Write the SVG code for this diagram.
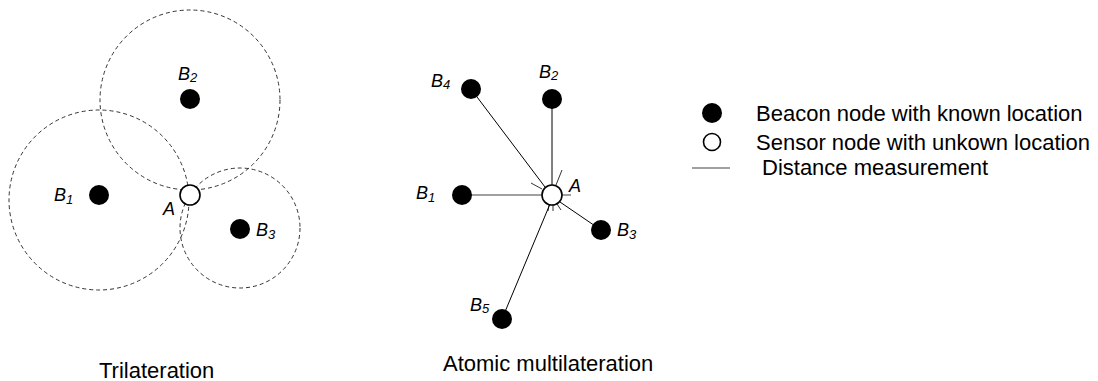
<svg xmlns="http://www.w3.org/2000/svg" width="1098" height="381" viewBox="0 0 1098 381">
<style>
.bg{fill:#fff}
.beacon{fill:#000}
.sensor{fill:#fff;stroke:#000;stroke-width:1.6}
.range{fill:none;stroke:#333;stroke-width:1;stroke-dasharray:4 3}
.dist{stroke:#000;stroke-width:1;fill:none}
.distg{stroke:#808080;stroke-width:1.5;fill:none}
.tick{stroke:#000;stroke-width:0.8}
.lbl{font-family:"Liberation Sans",Arial,sans-serif;font-style:italic;font-size:18px;fill:#000}
.sub{font-size:13px}
.txt{font-family:"Liberation Sans",Arial,sans-serif;font-size:22px;fill:#000}
</style>
<rect class="bg" x="0" y="0" width="1098" height="381"/>

<!-- Trilateration -->
<g id="trilateration-ranges">
  <circle class="range" cx="190" cy="100" r="90"/>
  <circle class="range" cx="99" cy="200" r="90"/>
  <circle class="range" cx="240" cy="228" r="60"/>
</g>
<g id="tri-B2"><circle class="beacon" cx="190" cy="99" r="10"/><text class="lbl" x="178" y="80">B<tspan class="sub" dy="2">2</tspan></text></g>
<g id="tri-B1"><circle class="beacon" cx="99" cy="195" r="10"/><text class="lbl" x="54" y="201">B<tspan class="sub" dy="3">1</tspan></text></g>
<g id="tri-B3"><circle class="beacon" cx="240" cy="229" r="10"/><text class="lbl" x="256" y="236">B<tspan class="sub" dy="3">3</tspan></text></g>
<g id="tri-A"><circle class="sensor" cx="190" cy="195" r="10"/><text class="lbl" x="163" y="215">A</text></g>
<text class="txt" x="99" y="378">Trilateration</text>

<!-- Atomic multilateration -->
<g id="connectors">
  <line class="dist" x1="471" y1="89" x2="545" y2="187"/>
  <line class="dist" x1="552" y1="99" x2="552" y2="185"/>
  <line class="distg" x1="462" y1="195" x2="571" y2="195"/>
  <line class="dist" x1="601" y1="230" x2="560" y2="202"/>
  <line class="dist" x1="502" y1="319" x2="550" y2="204"/>
  <line class="tick" x1="531" y1="183" x2="542" y2="189"/>
  <line class="tick" x1="562" y1="170" x2="556" y2="185"/>
  <line class="tick" x1="549" y1="205" x2="548" y2="211"/>
  <line class="tick" x1="553" y1="205" x2="553" y2="211"/>
  <line class="tick" x1="557" y1="204" x2="561" y2="210"/>
</g>
<g id="am-B4"><circle class="beacon" cx="471" cy="89" r="10"/><text class="lbl" x="431" y="87">B<tspan class="sub" dy="2">4</tspan></text></g>
<g id="am-B2"><circle class="beacon" cx="552" cy="99" r="10"/><text class="lbl" x="539" y="78">B<tspan class="sub" dy="2">2</tspan></text></g>
<g id="am-B1"><circle class="beacon" cx="462" cy="195" r="10"/><text class="lbl" x="416" y="199">B<tspan class="sub" dy="3">1</tspan></text></g>
<g id="am-B3"><circle class="beacon" cx="601" cy="230" r="10"/><text class="lbl" x="617" y="236">B<tspan class="sub" dy="3">3</tspan></text></g>
<g id="am-B5"><circle class="beacon" cx="502" cy="319" r="10"/><text class="lbl" x="470" y="311">B<tspan class="sub" dy="2">5</tspan></text></g>
<g id="am-A"><circle class="sensor" cx="552" cy="195" r="10"/><text class="lbl" x="569" y="192">A</text></g>
<text class="txt" x="443" y="371">Atomic multilateration</text>

<!-- Legend -->
<g id="legend">
  <circle class="beacon" cx="712" cy="113" r="10"/>
  <text class="txt" x="756" y="121">Beacon node with known location</text>
  <circle class="sensor" cx="712" cy="142" r="8.5"/>
  <text class="txt" x="756" y="150">Sensor node with unkown location</text>
  <line class="distg" x1="692" y1="168" x2="730" y2="168"/>
  <text class="txt" x="762" y="175">Distance measurement</text>
</g>
</svg>
